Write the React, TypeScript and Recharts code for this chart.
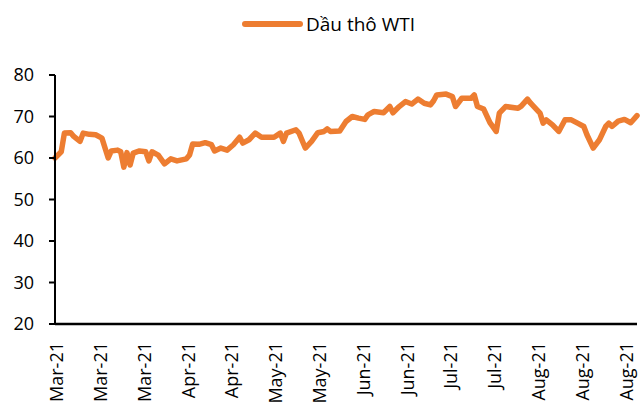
import React from "react";
import { LineChart, Line, XAxis, YAxis, Legend } from "recharts";

const seriesName = "Dầu thô WTI";

const dates = [
  "2021-03-01", "2021-03-03", "2021-03-04", "2021-03-06", "2021-03-07", "2021-03-09", "2021-03-10", "2021-03-12",
  "2021-03-14", "2021-03-16", "2021-03-18", "2021-03-19", "2021-03-21", "2021-03-22", "2021-03-23", "2021-03-24",
  "2021-03-25", "2021-03-26", "2021-03-28", "2021-03-30", "2021-03-31", "2021-04-01", "2021-04-03", "2021-04-05",
  "2021-04-07", "2021-04-09", "2021-04-12", "2021-04-13", "2021-04-14", "2021-04-16", "2021-04-18", "2021-04-20",
  "2021-04-21", "2021-04-23", "2021-04-25", "2021-04-27", "2021-04-29", "2021-04-30", "2021-05-02", "2021-05-04",
  "2021-05-06", "2021-05-10", "2021-05-12", "2021-05-13", "2021-05-14", "2021-05-17", "2021-05-18", "2021-05-20",
  "2021-05-22", "2021-05-24", "2021-05-26", "2021-05-27", "2021-05-28", "2021-05-31", "2021-06-02", "2021-06-04",
  "2021-06-06", "2021-06-08", "2021-06-09", "2021-06-10", "2021-06-11", "2021-06-14", "2021-06-16", "2021-06-17",
  "2021-06-19", "2021-06-21", "2021-06-23", "2021-06-25", "2021-06-27", "2021-06-29", "2021-06-30", "2021-07-01",
  "2021-07-04", "2021-07-06", "2021-07-07", "2021-07-09", "2021-07-12", "2021-07-13", "2021-07-14", "2021-07-16",
  "2021-07-18", "2021-07-20", "2021-07-21", "2021-07-23", "2021-07-27", "2021-07-28", "2021-07-30", "2021-07-31",
  "2021-08-03", "2021-08-04", "2021-08-05", "2021-08-07", "2021-08-09", "2021-08-11", "2021-08-13", "2021-08-15",
  "2021-08-17", "2021-08-18", "2021-08-20", "2021-08-22", "2021-08-24", "2021-08-25", "2021-08-26", "2021-08-28",
  "2021-08-30", "2021-09-01", "2021-09-03",
];

const prices = [
  60.0, 61.5, 66.0, 66.1, 65.2, 64.0, 66.0, 65.7,
  65.6, 64.8, 60.0, 61.7, 61.9, 61.5, 57.8, 61.3,
  58.3, 61.2, 61.7, 61.5, 59.3, 61.5, 60.7, 58.6,
  59.8, 59.3, 59.8, 60.7, 63.4, 63.3, 63.7, 63.2,
  61.7, 62.4, 61.9, 63.2, 65.0, 63.6, 64.4, 66.0,
  65.0, 65.0, 66.0, 64.0, 66.0, 66.8, 66.0, 62.4,
  64.0, 66.1, 66.4, 67.0, 66.4, 66.5, 68.8, 70.0,
  69.6, 69.3, 70.4, 70.8, 71.2, 70.9, 72.4, 70.9,
  72.4, 73.6, 73.0, 74.2, 73.2, 72.8, 73.8, 75.2,
  75.4, 74.8, 72.4, 74.4, 74.4, 75.2, 72.4, 71.8,
  68.5, 66.4, 70.8, 72.4, 72.0, 72.5, 74.2, 73.2,
  70.8, 68.4, 69.2, 68.0, 66.4, 69.2, 69.2, 68.4,
  67.6, 65.6, 62.4, 64.4, 67.6, 68.4, 67.6, 68.9,
  69.3, 68.5, 70.2,
];

const tickDays = [0, 14, 28, 42, 56, 70, 84, 98, 112, 126, 140, 154, 168, 182];
const tickLabels = [
  "Mar-21", "Mar-21", "Mar-21", "Apr-21", "Apr-21", "May-21", "May-21",
  "Jun-21", "Jun-21", "Jul-21", "Jul-21", "Aug-21", "Aug-21", "Aug-21",
];
const yTicks = [20, 30, 40, 50, 60, 70, 80];

const startDate = "2021-03-01";
const toUtc = (s: string) => {
  const [y, m, d] = s.split("-").map(Number);
  return Date.UTC(y, m - 1, d);
};
const data = dates.map((d, i) => ({
  day: Math.round((toUtc(d) - toUtc(startDate)) / 86400000),
  value: prices[i],
}));

const ORANGE = "#ED7D31";
const FONT = "'Open Sans', sans-serif";

const XTick = (props: any) => {
  const { x, y, payload } = props;
  const idx = tickDays.indexOf(payload.value);
  return (
    <text
      transform={`translate(${x},${y}) rotate(-90)`}
      textAnchor="end"
      dy="0.45em"
      fontFamily={FONT}
      fontSize={18}
      fill="#000"
    >
      {idx >= 0 ? tickLabels[idx] : ""}
    </text>
  );
};

const LegendContent = () => (
  <svg width={641} height={40} style={{ display: "block" }}>
    <line x1={245} y1={24} x2={300} y2={24} stroke={ORANGE} strokeWidth={6} strokeLinecap="round" />
    <text x={306} y={31} fontFamily={FONT} fontSize={19} fill="#000">
      {seriesName}
    </text>
  </svg>
);

export default function App() {
  return (
    <div style={{ position: "absolute", left: 0, top: 0 }}>
      <LineChart width={641} height={406} data={data} margin={{ top: 35, right: 4, bottom: 0, left: 0 }}>
        <Legend
          verticalAlign="top"
          align="left"
          content={<LegendContent />}
          wrapperStyle={{ top: 0, left: 0, width: 641, height: 40 }}
        />
        <XAxis
          dataKey="day"
          type="number"
          domain={[0, 186]}
          ticks={tickDays}
          interval={0}
          tickLine={false}
          tickSize={0}
          tickMargin={18}
          height={82}
          axisLine={{ stroke: "#000", strokeWidth: 2.5 }}
          tick={<XTick />}
        />
        <YAxis
          type="number"
          domain={[20, 80]}
          ticks={yTicks}
          interval={0}
          width={55}
          tickSize={6}
          tickMargin={15}
          axisLine={{ stroke: "#000", strokeWidth: 2 }}
          tickLine={{ stroke: "#000", strokeWidth: 2 }}
          tick={{ fontFamily: FONT, fontSize: 18, fill: "#000" }}
        />
        <Line
          type="linear"
          dataKey="value"
          name={seriesName}
          stroke={ORANGE}
          strokeWidth={5.5}
          strokeLinejoin="round"
          strokeLinecap="round"
          dot={false}
          activeDot={false}
          isAnimationActive={false}
        />
      </LineChart>
    </div>
  );
}
